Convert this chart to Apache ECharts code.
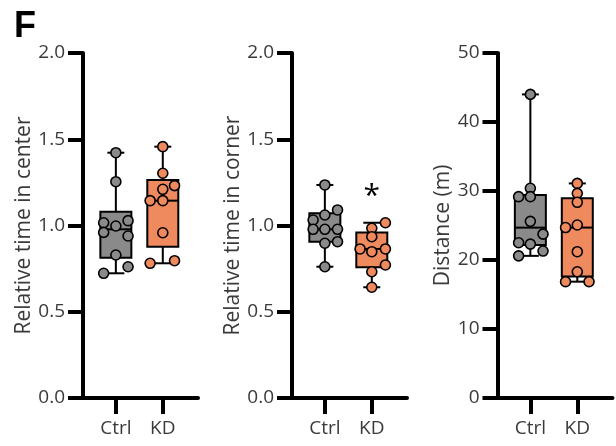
<!DOCTYPE html>
<html>
<head>
<meta charset="utf-8">
<script src="https://cdn.jsdelivr.net/npm/echarts@6/dist/echarts.min.js"></script>
<style>html,body{margin:0;padding:0;background:#fff}#c{width:616px;height:446px}</style>
</head>
<body>
<div id="c"></div>
<script>
// ---- data ----
const groups = ['Ctrl', 'KD'];
const panelTitles = ['Relative time in center', 'Relative time in corner', 'Distance (m)'];

const centerCtrl = [1.422, 1.254, 1.016, 1.028, 0.997, 0.960, 0.939, 0.829, 0.723, 0.761];
const centerCtrlJitter = [0, 0, -0.26, 0.26, 0, -0.26, 0.26, 0, -0.26, 0.26];
const centerKD = [1.457, 1.303, 1.210, 1.231, 1.144, 1.144, 0.958, 0.781, 0.796];
const centerKDJitter = [0, 0, 0, 0.25, -0.27, 0, 0, -0.27, 0.25];
const centerCtrlBox = [0.723, 0.813, 0.978, 1.080, 1.422]; // min, q1, median, q3, max
const centerKDBox = [0.781, 0.877, 1.144, 1.264, 1.457];

const cornerCtrl = [1.235, 1.090, 1.061, 1.032, 0.978, 0.978, 0.978, 0.897, 0.906, 0.761];
const cornerCtrlJitter = [0, 0.27, 0, -0.25, -0.25, 0, 0.27, 0, 0.27, 0];
const cornerKD = [1.016, 0.984, 0.935, 0.864, 0.848, 0.864, 0.771, 0.732, 0.642];
const cornerKDJitter = [0.29, 0, 0, -0.25, 0, 0.29, 0.29, 0, 0];
const cornerCtrlBox = [0.761, 0.906, 0.978, 1.071, 1.235];
const cornerKDBox = [0.642, 0.758, 0.864, 0.960, 1.016];

const distCtrl = [44.0, 30.39, 29.18, 29.18, 25.6, 23.75, 22.5, 22.3, 21.3, 20.6];
const distCtrlJitter = [0, 0, -0.25, 0, 0, 0.27, -0.25, 0, 0.27, -0.25];
const distKD = [31.1, 29.66, 28.36, 24.7, 25.07, 21.2, 18.3, 16.86, 16.86];
const distKDJitter = [0, 0, 0, -0.25, 0, 0, 0, -0.25, 0.25];
const distCtrlBox = [20.6, 22.17, 24.69, 29.42, 44.0];
const distKDBox = [16.86, 17.6, 24.7, 28.94, 31.1];

const yTicksRel = [0, 0.5, 1.0, 1.5, 2.0];
const yTicksDist = [0, 10, 20, 30, 40, 50];

const significance = { panel: 1, group: 1, label: '*', value: 1.17 };

// ---- style ----
const fillColors = ['#8a8a8a', '#ef8a5f'];
const textColor = '#3a3a3a';
const fontFam = '"Open Sans", "Noto Sans", sans-serif';

const panels = [
  { ctrl: centerCtrl, ctrlJ: centerCtrlJitter, kd: centerKD, kdJ: centerKDJitter, boxes: [centerCtrlBox, centerKDBox], ticks: yTicksRel, dec: 1, left: 83, nameGap: 46 },
  { ctrl: cornerCtrl, ctrlJ: cornerCtrlJitter, kd: cornerKD, kdJ: cornerKDJitter, boxes: [cornerCtrlBox, cornerKDBox], ticks: yTicksRel, dec: 1, left: 292, nameGap: 46 },
  { ctrl: distCtrl, ctrlJ: distCtrlJitter, kd: distKD, kdJ: distKDJitter, boxes: [distCtrlBox, distKDBox], ticks: yTicksDist, dec: 0, left: 497.5, nameGap: 44 }
];

function renderBox(params, api) {
  const x = api.value(0);
  const g = Math.round(x);
  const pMin = api.coord([x, api.value(1)]);
  const pQ1 = api.coord([x, api.value(2)]);
  const pMed = api.coord([x, api.value(3)]);
  const pQ3 = api.coord([x, api.value(4)]);
  const pMax = api.coord([x, api.value(5)]);
  const cx = pMin[0], hw = 15.5, cw = 8.5;
  const ls = { stroke: '#000', lineWidth: 2 };
  return {
    type: 'group',
    children: [
      { type: 'line', shape: { x1: cx, y1: pQ3[1], x2: cx, y2: pMax[1] }, style: ls },
      { type: 'line', shape: { x1: cx, y1: pMin[1], x2: cx, y2: pQ1[1] }, style: ls },
      { type: 'line', shape: { x1: cx - cw, y1: pMax[1], x2: cx + cw, y2: pMax[1] }, style: ls },
      { type: 'line', shape: { x1: cx - cw, y1: pMin[1], x2: cx + cw, y2: pMin[1] }, style: ls },
      { type: 'rect', shape: { x: cx - hw, y: pQ3[1], width: 2 * hw, height: pQ1[1] - pQ3[1] }, style: { fill: fillColors[g], stroke: '#000', lineWidth: 2 } },
      { type: 'line', shape: { x1: cx - hw, y1: pMed[1], x2: cx + hw, y2: pMed[1] }, style: ls }
    ]
  };
}

const grid = [], xAxis = [], yAxis = [], series = [];
panels.forEach((p, i) => {
  grid.push({ left: p.left, top: 53, width: 115, height: 345 });
  xAxis.push({
    gridIndex: i, type: 'value', min: -0.7, max: 1.75,
    axisLine: { show: true, onZero: false, lineStyle: { color: '#000', width: 4 } },
    axisTick: { show: true, inside: false, customValues: [0, 1], length: 16, lineStyle: { color: '#000', width: 4 } },
    axisLabel: { show: true, customValues: [0, 1], formatter: v => groups[Math.round(v)], fontSize: 19, color: textColor, fontFamily: fontFam, margin: 21 },
    splitLine: { show: false }
  });
  const tmax = p.ticks[p.ticks.length - 1];
  yAxis.push({
    gridIndex: i, type: 'value', min: p.ticks[0], max: tmax, interval: p.ticks[1] - p.ticks[0],
    name: panelTitles[i], nameLocation: 'middle', nameGap: p.nameGap, nameRotate: 90,
    nameTextStyle: { fontSize: 21, color: textColor, fontFamily: fontFam },
    axisLine: { show: true, onZero: false, lineStyle: { color: '#000', width: 4 } },
    axisTick: { show: true, inside: false, length: 15, lineStyle: { color: '#000', width: 4 } },
    axisLabel: { formatter: v => v.toFixed(p.dec), fontSize: 19, color: textColor, fontFamily: fontFam, margin: 18 },
    splitLine: { show: false }
  });
  series.push({
    type: 'custom', xAxisIndex: i, yAxisIndex: i, renderItem: renderBox, silent: true, z: 2,
    data: p.boxes.map((b, gi) => [gi].concat(b))
  });
  [[p.ctrl, p.ctrlJ, 0], [p.kd, p.kdJ, 1]].forEach(([vals, jit, gi]) => {
    series.push({
      type: 'scatter', xAxisIndex: i, yAxisIndex: i, z: 3, silent: true,
      symbol: 'circle', symbolSize: 10,
      itemStyle: { color: fillColors[gi], borderColor: '#000', borderWidth: 1.6, opacity: 1 },
      data: vals.map((v, k) => [gi + jit[k], v])
    });
  });
});

// significance marker
series.push({
  type: 'custom', xAxisIndex: significance.panel, yAxisIndex: significance.panel, silent: true, z: 4,
  data: [[significance.group, significance.value]],
  renderItem: (params, api) => {
    const pt = api.coord([api.value(0), api.value(1)]);
    return { type: 'text', x: pt[0], y: pt[1], style: { text: significance.label, fontSize: 30, fontFamily: fontFam, fill: '#000', align: 'center', verticalAlign: 'middle' } };
  }
});

const chart = echarts.init(document.getElementById('c'), null, { renderer: 'canvas' });
chart.setOption({
  animation: false,
  backgroundColor: '#fff',
  graphic: [{ type: 'text', left: 14, top: 9, style: { text: 'F', fontSize: 36, fontWeight: 'bold', fontFamily: '"Liberation Sans", Arial, sans-serif', fill: '#000' } }],
  grid, xAxis, yAxis, series
});
</script>
</body>
</html>
